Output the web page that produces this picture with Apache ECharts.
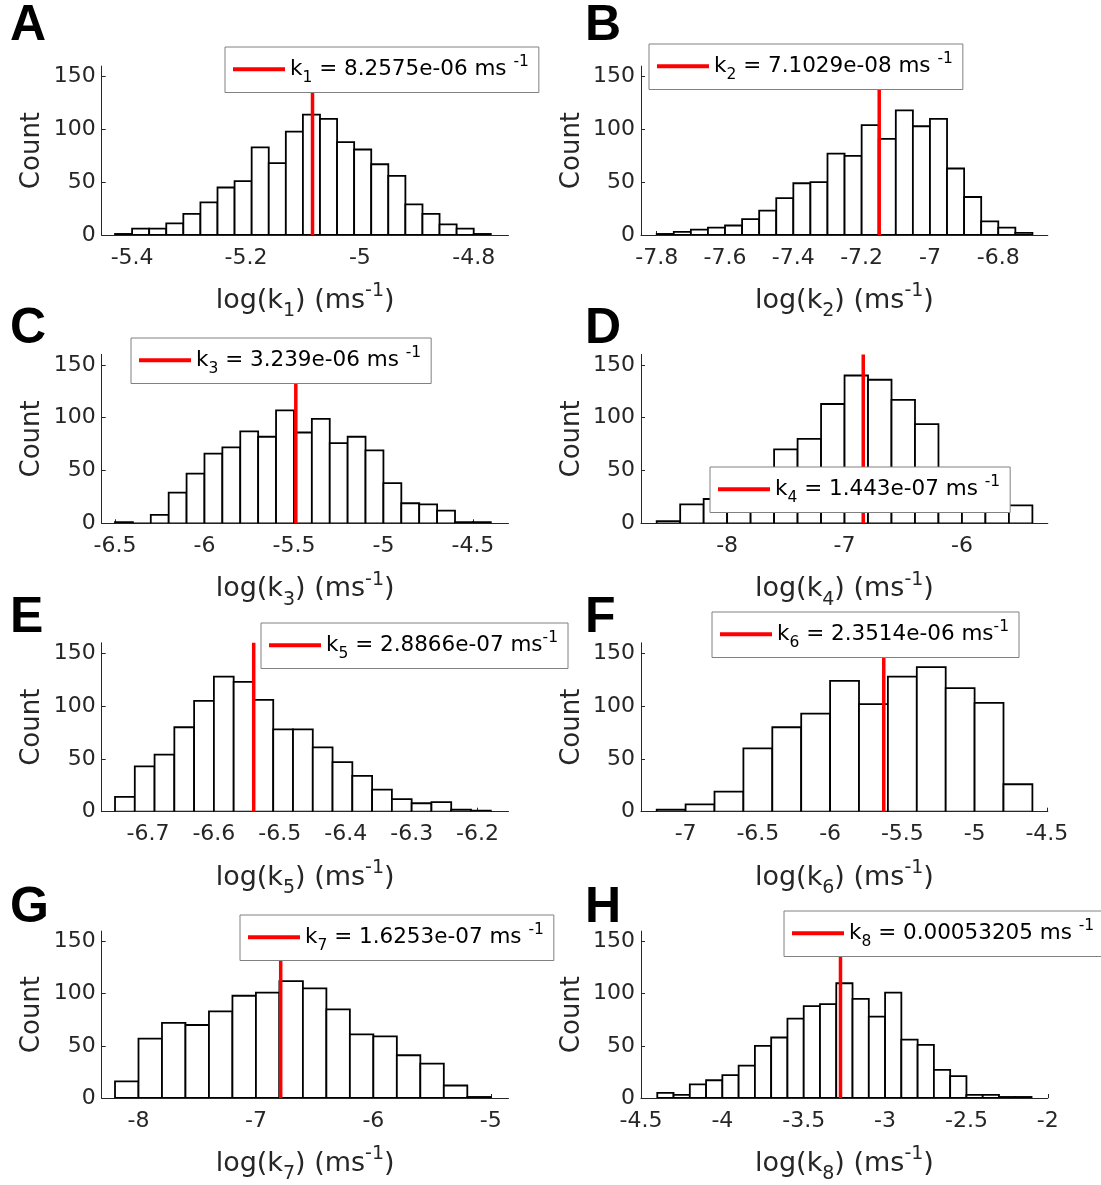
<!DOCTYPE html>
<html>
<head>
<meta charset="utf-8">
<script src="https://cdn.jsdelivr.net/npm/echarts@6/dist/echarts.min.js"></script>
<style>
  html, body { margin: 0; padding: 0; background: #ffffff; }
  #chart { width: 1101px; height: 1185px; }
</style>
</head>
<body>
<div id="chart"></div>
<script>
// Histograms of log10 of the sampled rate constants k1..k8, one panel each,
// with the reported estimate marked as a red vertical line.

const panelLetters = ['A', 'B', 'C', 'D', 'E', 'F', 'G', 'H'];

// reported estimates (ms^-1), as printed in each legend
const kValueText = ['8.2575e-06', '7.1029e-08', '3.239e-06', '1.443e-07',
                    '2.8866e-07', '2.3514e-06', '1.6253e-07', '0.00053205'];
// space before the ms^-1 exponent in each legend string
const unitSpace = [' ', ' ', ' ', ' ', '', '', ' ', ' '];

// histogram bins: left edge of first bin and bin width (log10 units)
const binStart = [-5.43, -7.80, -6.5, -8.6, -6.75, -7.2, -8.2, -4.4];
const binWidth = [0.03, 0.05, 0.1, 0.2, 0.03, 0.2, 0.2, 0.1];

// bin counts
const countsK1 = [1, 6, 6, 11, 20, 31, 45, 51, 83, 68, 98, 114, 110, 88, 81, 67, 56, 29, 20, 10, 6, 1];
const countsK2 = [1, 3, 5, 7, 9, 15, 23, 35, 49, 50, 77, 75, 104, 91, 118, 103, 110, 63, 36, 13, 7, 2];
const countsK3 = [1, 0, 8, 29, 47, 66, 72, 87, 82, 107, 86, 99, 76, 82, 69, 38, 19, 18, 12, 1, 1];
const countsK4 = [2, 18, 23, 33, 45, 70, 80, 113, 140, 136, 117, 94, 48, 33, 22, 17];
const countsK5 = [14, 43, 54, 80, 105, 128, 123, 106, 78, 78, 61, 47, 34, 21, 12, 8, 9, 2, 1];
const countsK6 = [2, 7, 19, 60, 80, 93, 124, 102, 128, 137, 117, 103, 26];
const countsK7 = [16, 57, 72, 70, 83, 98, 101, 112, 105, 85, 61, 59, 41, 33, 12, 1];
const countsK8 = [5, 3, 13, 17, 22, 31, 50, 58, 76, 88, 90, 110, 95, 78, 101, 56, 51, 27, 21, 3, 3, 1, 1];
const counts = [countsK1, countsK2, countsK3, countsK4, countsK5, countsK6, countsK7, countsK8];

// x tick labels
const xTicksK1 = [-5.4, -5.2, -5, -4.8];
const xTicksK2 = [-7.8, -7.6, -7.4, -7.2, -7, -6.8];
const xTicksK3 = [-6.5, -6, -5.5, -5, -4.5];
const xTicksK4 = [-8, -7, -6];
const xTicksK5 = [-6.7, -6.6, -6.5, -6.4, -6.3, -6.2];
const xTicksK6 = [-7, -6.5, -6, -5.5, -5, -4.5];
const xTicksK7 = [-8, -7, -6, -5];
const xTicksK8 = [-4.5, -4, -3.5, -3, -2.5, -2];
const xTicks = [xTicksK1, xTicksK2, xTicksK3, xTicksK4, xTicksK5, xTicksK6, xTicksK7, xTicksK8];

// y tick labels
const yTicks = [0, 50, 100, 150];

// ---- layout ----
const FONT = 'DejaVu Sans';
const AXIS_COLOR = '#262626';
const Y_MAX = 160;
const colLeft = [101.7, 641];
const plotWidth = 406.8;
const rowBottom = [235, 523.3, 811.7, 1100];
const plotHeight = 168.9;
// x axis extent for each panel
const xExtent = [
  [-5.4534, -4.7389], [-7.846, -6.655], [-6.5743, -4.3011], [-8.7337, -5.2688],
  [-6.7702, -6.1531], [-7.3087, -4.4934], [-8.3133, -4.8492], [-4.5, -2.0]
];
// legend box top-left corners
const legendPos = [
  [225, 47], [649, 44], [131, 338], [710, 467],
  [261, 623], [712, 612], [240, 915], [784, 911]
];
// panel letter anchor (left, vertical centre)
const letterPos = [
  [10, 26], [585, 26], [10, 329], [585, 329],
  [10, 618], [585, 618], [10, 908], [585, 908]
];

const subSupRich = (size, subSize, lh) => ({
  m: { fontFamily: FONT, fontSize: size, lineHeight: lh, color: '#000' },
  sb: { fontFamily: FONT, fontSize: subSize, height: subSize, verticalAlign: 'bottom', color: '#000' },
  sp: { fontFamily: FONT, fontSize: subSize, height: subSize + 2, verticalAlign: 'top', color: '#000' }
});
const axisNameRich = {
  m: { fontFamily: FONT, fontSize: 27, lineHeight: 40, color: AXIS_COLOR },
  sb: { fontFamily: FONT, fontSize: 19, height: 19, verticalAlign: 'bottom', color: AXIS_COLOR },
  sp: { fontFamily: FONT, fontSize: 19, height: 21, verticalAlign: 'top', color: AXIS_COLOR }
};

const grids = [], xAxes = [], yAxes = [], series = [], legends = [], graphics = [];

for (let i = 0; i < 8; i++) {
  const col = i % 2, row = Math.floor(i / 2);
  const n = i + 1;
  grids.push({
    left: colLeft[col],
    top: rowBottom[row] - plotHeight,
    width: plotWidth,
    height: plotHeight,
    containLabel: false
  });
  xAxes.push({
    type: 'value',
    gridIndex: i,
    min: xExtent[i][0],
    max: xExtent[i][1],
    axisLine: { show: true, onZero: false, lineStyle: { color: AXIS_COLOR, width: 1 } },
    axisTick: { show: true, inside: true, length: 4, customValues: xTicks[i],
                lineStyle: { color: AXIS_COLOR, width: 1 } },
    axisLabel: { show: true, customValues: xTicks[i], margin: 12,
                 fontFamily: FONT, fontSize: 22, color: AXIS_COLOR,
                 formatter: v => String(v) },
    splitLine: { show: false },
    name: '{m|log(k}{sb|' + n + '}{m|) (ms}{sp|-1}{m|)}',
    nameLocation: 'middle',
    nameGap: 46,
    nameTextStyle: { rich: axisNameRich }
  });
  yAxes.push({
    type: 'value',
    gridIndex: i,
    min: 0,
    max: Y_MAX,
    axisLine: { show: true, onZero: false, lineStyle: { color: AXIS_COLOR, width: 1 } },
    axisTick: { show: true, inside: true, length: 4, customValues: yTicks,
                lineStyle: { color: AXIS_COLOR, width: 1 } },
    axisLabel: { show: true, customValues: yTicks, margin: 6,
                 fontFamily: FONT, fontSize: 22, color: AXIS_COLOR },
    splitLine: { show: false },
    name: 'Count',
    nameLocation: 'middle',
    nameGap: 56,
    nameTextStyle: { fontFamily: FONT, fontSize: 26, color: AXIS_COLOR }
  });

  // histogram bars: [left edge, right edge, count]
  const bars = counts[i].map((c, j) => [
    binStart[i] + j * binWidth[i],
    binStart[i] + (j + 1) * binWidth[i],
    c
  ]);
  series.push({
    type: 'custom',
    xAxisIndex: i,
    yAxisIndex: i,
    clip: true,
    silent: true,
    z: 2,
    renderItem: (params, api) => {
      const topLeft = api.coord([api.value(0), api.value(2)]);
      const bottomRight = api.coord([api.value(1), 0]);
      return {
        type: 'rect',
        shape: {
          x: topLeft[0], y: topLeft[1],
          width: bottomRight[0] - topLeft[0],
          height: bottomRight[1] - topLeft[1]
        },
        style: { fill: '#ffffff', stroke: '#000000', lineWidth: 1.8 }
      };
    },
    encode: { x: [0, 1], y: 2 },
    data: bars
  });

  // estimate marker at log10(k)
  const logK = Math.log10(Number(kValueText[i]));
  series.push({
    type: 'line',
    name: 'k' + n,
    xAxisIndex: i,
    yAxisIndex: i,
    color: '#ff0000',
    symbol: 'none',
    silent: true,
    z: 3,
    lineStyle: { color: '#ff0000', width: 3.5 },
    data: [[logK, 0], [logK, Y_MAX]]
  });

  legends.push({
    show: true,
    data: ['k' + n],
    left: legendPos[i][0],
    top: legendPos[i][1],
    orient: 'horizontal',
    padding: [7, 10, 7, 8],
    itemWidth: 52,
    itemHeight: 4,
    icon: 'rect',
    backgroundColor: '#ffffff',
    borderColor: '#808080',
    borderWidth: 1,
    borderRadius: 0,
    selectedMode: false,
    formatter: () => '{m|k}{sb|' + n + '}{m| = ' + kValueText[i] + ' ms' + unitSpace[i] + '}{sp|-1}',
    textStyle: { rich: subSupRich(21.5, 15.5, 32) }
  });

  graphics.push({
    type: 'text',
    x: letterPos[i][0],
    y: letterPos[i][1],
    style: {
      text: panelLetters[i],
      fontFamily: 'Liberation Sans',
      fontWeight: 'bold',
      fontSize: 50,
      fill: '#000000',
      align: 'left',
      verticalAlign: 'middle'
    }
  });
}

const chart = echarts.init(document.getElementById('chart'), null, { renderer: 'canvas' });
chart.setOption({
  animation: false,
  backgroundColor: '#ffffff',
  grid: grids,
  xAxis: xAxes,
  yAxis: yAxes,
  legend: legends,
  series: series,
  graphic: { elements: graphics }
});
</script>
</body>
</html>
